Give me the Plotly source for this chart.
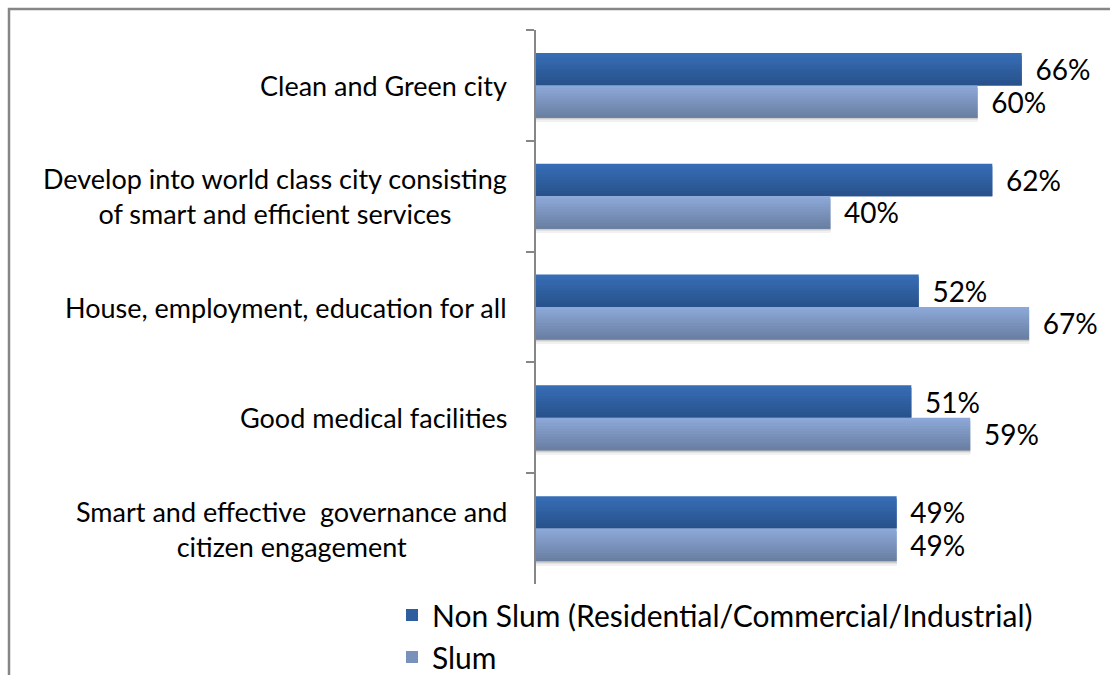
import plotly.graph_objects as go

# Survey categories, top to bottom
categories = [
    "Clean and Green city",
    "Develop into world class city consisting<br>of smart and efficient services",
    "House, employment, education for all",
    "Good medical facilities",
    "Smart and effective  governance and<br>citizen engagement",
]
series_names = ["Non Slum (Residential/Commercial/Industrial)", "Slum"]
non_slum = [66, 62, 52, 51, 49]
slum = [60, 40, 67, 59, 49]

FONT = "Lato"
AXIS_GREY = "#868686"

# top / bottom colours of each bar's vertical gradient
grad = {
    "non": ("#376db5", "#28528c"),
    "slum": ("#8ca8d8", "#6a7fa2"),
}

BAR_T = 0.293       # bar thickness in category units
N_STRIPS = 12       # strips used to fake the gradient


def hex_to_rgb(h):
    h = h.lstrip("#")
    return tuple(int(h[i:i + 2], 16) for i in (0, 2, 4))


def mix(c1, c2, t):
    a, b = hex_to_rgb(c1), hex_to_rgb(c2)
    return "rgb(%d,%d,%d)" % tuple(round(a[k] + (b[k] - a[k]) * t) for k in range(3))


fig = go.Figure()

# soft drop shadow under the lower bar of each pair
shadow_cols = ["#b5b5b5", "#cdcdcd", "#e2e2e2", "#f1f1f1"]
for i, col in enumerate(shadow_cols):
    fig.add_trace(go.Bar(
        y=categories, x=slum, orientation="h",
        offset=BAR_T + i * 0.009, width=0.0095,
        marker=dict(color=col, line=dict(width=0)),
        showlegend=False, hoverinfo="skip",
    ))


def gradient_bar(values, name, top, bottom, start, legend_rank):
    h = BAR_T / N_STRIPS
    for i in range(N_STRIPS):
        t = i / (N_STRIPS - 1)
        col = mix(top, bottom, t)
        mid = i == N_STRIPS // 2
        # each strip overlaps the next one so no seams show
        w = h if i == N_STRIPS - 1 else 2 * h
        fig.add_trace(go.Bar(
            y=categories, x=values, orientation="h",
            offset=start + i * h, width=w,
            marker=dict(color=col, line=dict(width=0)),
            name=name, showlegend=mid, legendrank=legend_rank,
            hoverinfo="skip",
        ))
    # invisible full-size bar carrying the value labels
    fig.add_trace(go.Bar(
        y=categories, x=values, orientation="h",
        offset=start, width=BAR_T,
        marker=dict(color="rgba(0,0,0,0)", line=dict(width=0)),
        text=values, texttemplate="\u00a0\u2009%{x}%",
        textposition="outside", constraintext="none", cliponaxis=False,
        textfont=dict(family=FONT, size=28, color="#000000"),
        showlegend=False, hoverinfo="skip",
    ))


gradient_bar(non_slum, series_names[0], *grad["non"], -BAR_T, 1)
gradient_bar(slum, series_names[1], *grad["slum"], 0.0, 2)

# category labels, centred line-by-line and right-aligned to the axis
for cat in categories:
    fig.add_annotation(
        x=0, xref="x", y=cat, yref="y",
        text=cat, showarrow=False,
        xanchor="right", yanchor="middle", align="center",
        xshift=-27,
        font=dict(family=FONT, size=27, color="#000000"),
    )

L, R, T, B = 536, 22, 30, 91
PW = 1110 - L - R
PH = 675 - T - B


def px_x(X):
    return (X - L) / PW


def px_y(Y):
    return (675 - B - Y) / PH


# outer chart border (runs off the right and bottom edges)
fig.add_shape(type="rect", xref="paper", yref="paper",
              x0=px_x(9), x1=px_x(1140), y0=px_y(700), y1=px_y(9),
              line=dict(color=AXIS_GREY, width=2.5), fillcolor="rgba(0,0,0,0)",
              layer="below")

fig.update_layout(
    width=1110, height=675,
    margin=dict(l=L, r=R, t=T, b=B, autoexpand=False),
    paper_bgcolor="white", plot_bgcolor="white",
    barmode="overlay",
    font=dict(family=FONT, color="#000000"),
    xaxis=dict(range=[0, 75], showgrid=False, zeroline=False,
               showticklabels=False, showline=False, ticks=""),
    yaxis=dict(autorange="reversed", type="category",
               showticklabels=False, showgrid=False, zeroline=False,
               showline=True, linecolor=AXIS_GREY, linewidth=1.5,
               ticks="outside", tickson="boundaries", ticklen=8,
               tickcolor=AXIS_GREY, tickwidth=1.5),
    legend=dict(x=px_x(392), y=px_y(589), xanchor="left", yanchor="top",
                orientation="v", traceorder="normal",
                font=dict(family=FONT, size=30, color="#000000"),
                bgcolor="rgba(0,0,0,0)", itemwidth=30),
    showlegend=True,
)

fig.write_html("out.html")
